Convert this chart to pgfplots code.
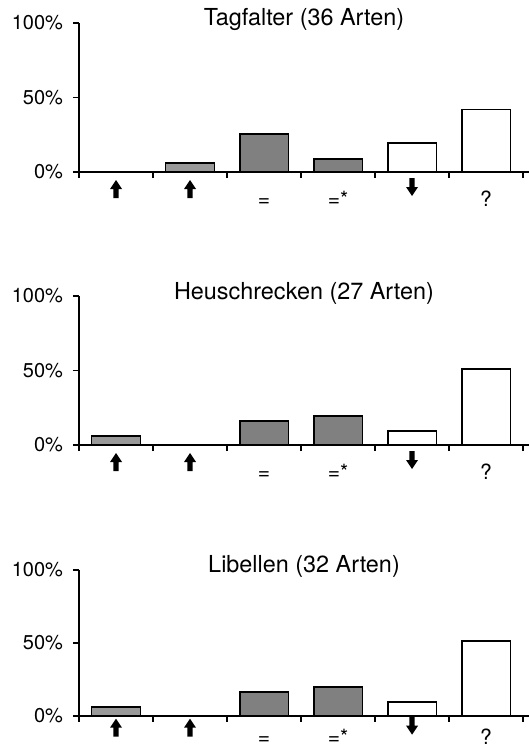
\documentclass[border=0pt]{standalone}
\usepackage{fontspec}
\setmainfont{TeX Gyre Heros}
\usepackage{pgfplots}
\pgfplotsset{compat=1.18}

\newcommand{\uparr}{\raisebox{4pt}{\tikz[baseline=0pt]{\fill[black] (-1.3pt,0) -- (1.3pt,0) -- (1.3pt,4.5pt) -- (3pt,4.5pt) -- (0,9pt) -- (-3pt,4.5pt) -- (-1.3pt,4.5pt) -- cycle;}}}
\newcommand{\downarr}{\raisebox{5pt}{\tikz[baseline=0pt]{\fill[black] (-1.3pt,9pt) -- (1.3pt,9pt) -- (1.3pt,4.5pt) -- (3pt,4.5pt) -- (0,0) -- (-3pt,4.5pt) -- (-1.3pt,4.5pt) -- cycle;}}}

\colorlet{darkfill}{black!50}
\colorlet{lightfill}{black!40}

\pgfplotsset{
  myax/.style={
    scale only axis, width=225pt, height=74.5pt,
    xmin=0, xmax=6.08, ymin=0, ymax=100,
    axis x line=bottom, axis y line=left,
    axis line style={-, line width=0.9pt, black},
    xtick={0,1,2,3,4,5,6},
    x tick label as interval,
    xticklabels={\uparr,\uparr,{=},{=*},\downarr,?},
    xticklabel style={anchor=base, yshift=-14pt, font=\fontsize{10.5}{12}\selectfont},
    ytick={0,50,100},
    yticklabels={0\%,50\%,100\%},
    yticklabel style={xshift=-1.5pt, font=\fontsize{10}{12}\selectfont},
    tick align=outside, major tick length=3pt,
    tick style={line width=0.9pt, black},
    title style={at={(0.5,1)}, anchor=base, yshift=-7.5pt, font=\fontsize{11.7}{14}\selectfont},
    clip=false,
  },
  bars/.style={ybar, bar shift=0pt, bar width=0.66, draw=black, line width=0.9pt},
}

\begin{document}
\begin{tikzpicture}
\useasboundingbox (0,0) rectangle (264.5pt,-374.5pt);

\begin{axis}[myax, at={(39.5pt,-86pt)}, anchor=south west, title={Tagfalter (36 Arten)}]
\addplot[bars, fill=lightfill] coordinates {(1.5,6)};
\addplot[bars, fill=darkfill] coordinates {(2.5,25.5) (3.5,8.5)};
\addplot[bars, fill=white] coordinates {(4.5,19.5) (5.5,42)};
\end{axis}

\begin{axis}[myax, at={(39.5pt,-222.5pt)}, anchor=south west, title={Heuschrecken (27 Arten)}]
\addplot[bars, fill=lightfill] coordinates {(0.5,6)};
\addplot[bars, fill=darkfill] coordinates {(2.5,16) (3.5,19.3)};
\addplot[bars, fill=white] coordinates {(4.5,9.6) (5.5,50.8)};
\end{axis}

\begin{axis}[myax, height=73pt, at={(39.5pt,-357.85pt)}, anchor=south west, title={Libellen (32 Arten)},
  xticklabel style={yshift=2.5pt}]
\addplot[bars, fill=lightfill] coordinates {(0.5,6.2)};
\addplot[bars, fill=darkfill] coordinates {(2.5,16.2) (3.5,19.9)};
\addplot[bars, fill=white] coordinates {(4.5,9.6) (5.5,51.2)};
\end{axis}
\end{tikzpicture}
\end{document}
